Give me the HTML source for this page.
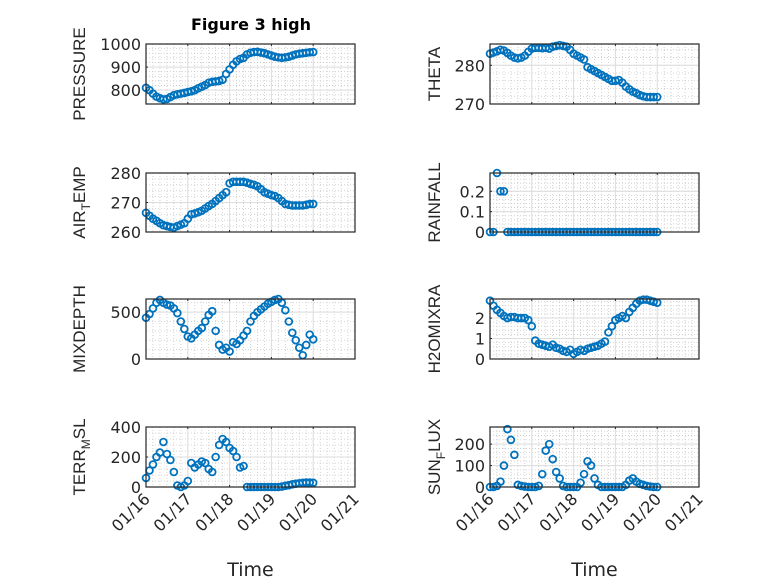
<!DOCTYPE html>
<html><head><meta charset="utf-8"><style>
html,body{margin:0;padding:0;background:#fff;}
svg{display:block;font-family:"DejaVu Sans","Liberation Sans",sans-serif;}
</style></head><body>
<svg id="fig" width="778" height="583" viewBox="0 0 778 583" xmlns="http://www.w3.org/2000/svg">
<rect width="778" height="583" fill="#fff"/>
<text x="251" y="30" text-anchor="middle" font-size="16" font-weight="bold" fill="#000">Figure 3 high</text>
</svg>
<script>
const xTickLabels = ["01/16","01/17","01/18","01/19","01/20","01/21"];
const pressure = [810,800,785,772,765,760,762,770,778,782,785,788,792,795,800,808,815,822,832,836,838,840,845,870,890,910,925,935,940,955,962,965,966,963,960,955,950,945,942,940,942,945,950,955,958,960,962,964,965];
const theta = [283,283.3,283.6,284,283.8,283.2,282.5,282,281.8,282,282.5,283.5,284.3,284.5,284.5,284.4,284.5,284.3,284.8,285,285.2,285,284.8,284,283,282.5,282,281.5,279.5,279,278.5,278,277.5,277,276.5,276,276,276.2,275.5,274.5,273.8,273.2,272.8,272.3,272,271.8,271.8,271.8,271.8];
const airTemp = [266.5,265.5,264.5,263.8,263,262.3,262,261.7,261.5,262,262.5,263,264.5,266,266.3,266.7,267.2,268,268.8,269.5,270.5,271.5,272.5,273.5,276.5,277,277,277,277,276.7,276.3,276,275.5,274.5,273.5,273,272.5,272.2,271.5,270.5,269.5,269.2,269,269,269,269,269.2,269.5,269.5];
const rainfall = [0,0,0.29,0.2,0.2,0,0,0,0,0,0,0,0,0,0,0,0,0,0,0,0,0,0,0,0,0,0,0,0,0,0,0,0,0,0,0,0,0,0,0,0,0,0,0,0,0,0,0,0];
const mixDepth = [440,480,540,600,630,600,580,570,540,490,400,320,240,220,260,300,330,400,470,510,300,150,100,120,80,180,160,200,250,300,400,460,500,530,560,590,610,630,640,600,520,400,280,200,120,40,150,260,210];
const h2oMixRa = [2.85,2.6,2.4,2.25,2.1,2.0,2.05,2.05,2.0,2.0,2.0,1.9,1.6,0.9,0.75,0.7,0.65,0.6,0.7,0.55,0.5,0.4,0.35,0.45,0.25,0.35,0.45,0.4,0.5,0.55,0.6,0.65,0.75,0.85,1.3,1.6,1.9,2.0,2.1,2.0,2.3,2.5,2.7,2.85,2.9,2.9,2.85,2.8,2.75];
const terrMsl = [60,110,150,200,230,300,220,180,100,10,0,10,40,160,130,150,170,160,120,100,200,280,320,300,260,240,200,130,140,0,0,0,0,0,0,0,0,0,0,3,8,12,18,22,25,28,30,30,28];
const sunFlux = [0,0,5,25,100,270,220,150,10,5,2,0,0,0,5,60,170,200,130,70,40,5,0,0,0,0,20,60,120,100,40,10,0,0,0,0,0,0,0,10,30,40,25,15,10,5,2,0,0];

const NS="http://www.w3.org/2000/svg";
const svg=document.getElementById('fig');
function mk(tag,attrs,parent){const e=document.createElementNS(NS,tag);for(const k in attrs)e.setAttribute(k,attrs[k]);(parent||svg).appendChild(e);return e;}

const panels=[
 {name:"pressure",data:pressure,x0:146,x1:355,y0:44,y1:104,ymin:740,ymax:1000,ticks:[800,900,1000],label:["PRESSURE"],bottom:false},
 {name:"theta",data:theta,x0:490,x1:699,y0:44,y1:104,ymin:270,ymax:285.5,ticks:[270,280],label:["THETA"],bottom:false},
 {name:"air-temp",data:airTemp,x0:146,x1:355,y0:173,y1:232,ymin:260,ymax:280,ticks:[260,270,280],label:["AIR","T","EMP"],bottom:false},
 {name:"rainfall",data:rainfall,x0:490,x1:699,y0:173,y1:232,ymin:0,ymax:0.29,ticks:[0,0.1,0.2],label:["RAINFALL"],bottom:false},
 {name:"mixdepth",data:mixDepth,x0:146,x1:355,y0:299,y1:359,ymin:0,ymax:640,ticks:[0,500],label:["MIXDEPTH"],bottom:false},
 {name:"h2omixra",data:h2oMixRa,x0:490,x1:699,y0:299,y1:359,ymin:0,ymax:2.93,ticks:[0,1,2],label:["H2OMIXRA"],bottom:false},
 {name:"terr-msl",data:terrMsl,x0:146,x1:355,y0:427,y1:487,ymin:0,ymax:400,ticks:[0,200,400],label:["TERR","M","SL"],bottom:true},
 {name:"sun-flux",data:sunFlux,x0:490,x1:699,y0:427,y1:487,ymin:0,ymax:280,ticks:[0,100,200],label:["SUN","F","LUX"],bottom:true}
];

panels.forEach(p=>{
  const g=mk('g',{});
  
  
  const xs=d=>p.x0+(p.x1-p.x0)*d/5;
  const ys=v=>p.y1-(p.y1-p.y0)*(v-p.ymin)/(p.ymax-p.ymin);
  for(let d=0;d<5;d++){for(let k=1;k<6;k++){const x=xs(d+k/6);
    const l=mk('line',{x1:x,x2:x,y1:p.y0,y2:p.y1,stroke:'#c8c8c8','stroke-width':0.8,'stroke-dasharray':'1 2'},g);
    }}
  const step=p.ticks[1]-p.ticks[0];
  for(let v=p.ticks[0]-step;v<=p.ymax;v+=step/5){ if(v<p.ymin||v>p.ymax)continue;
    const y=ys(v);const l=mk('line',{x1:p.x0,x2:p.x1,y1:y,y2:y,stroke:'#c8c8c8','stroke-width':0.8,'stroke-dasharray':'1 2'},g);
    }
  for(let d=1;d<5;d++){const x=xs(d);const l=mk('line',{x1:x,x2:x,y1:p.y0,y2:p.y1,stroke:'#dcdcdc','stroke-width':1},g);
    }
  p.ticks.forEach(v=>{const y=ys(v);const l=mk('line',{x1:p.x0,x2:p.x1,y1:y,y2:y,stroke:'#dcdcdc','stroke-width':1},g);
    
    const t=mk('text',{x:p.x0-5,y:y+6,'text-anchor':'end','font-size':16,fill:'#262626'},g);
    t.textContent=String(v);
    
    mk('line',{x1:p.x0,x2:p.x0+2,y1:y,y2:y,stroke:'#262626'},g);
  });
  xTickLabels.forEach((lab,i)=>{const x=xs(i);
    mk('line',{x1:x,x2:x,y1:p.y1,y2:p.y1-2,stroke:'#262626'},g);
    mk('line',{x1:x,x2:x,y1:p.y0,y2:p.y0+2,stroke:'#262626'},g);
    if(p.bottom){const t=mk('text',{x:x+5,y:p.y1+13,'text-anchor':'end','font-size':16,fill:'#262626',transform:`rotate(-45 ${x+5} ${p.y1+13})`},g);
      t.textContent=lab;}
  });
  p.data.forEach((v,i)=>{const c=mk('circle',{cx:xs(i/12),cy:ys(v),r:3.4,fill:'none',stroke:'#0072BD','stroke-width':1.8},g);
    });
  const b=mk('rect',{x:p.x0,y:p.y0,width:p.x1-p.x0,height:p.y1-p.y0,fill:'none',stroke:'#262626','stroke-width':1.2},g);
  
  const lxx=p.x0>400?440:85;
  const cy=(p.y0+p.y1)/2;
  const yl=mk('text',{x:lxx,y:cy,'text-anchor':'middle','font-size':17,fill:'#262626','font-family':'Liberation Sans, sans-serif',transform:`rotate(-90 ${lxx} ${cy})`},g);
  
  if(p.label.length===1){yl.textContent=p.label[0];}
  else{const a=mk('tspan',{},yl);a.textContent=p.label[0];
    const s=mk('tspan',{dy:5,'font-size':12},yl);s.textContent=p.label[1];
    const r=mk('tspan',{dy:-5},yl);r.textContent=p.label[2];}
  if(p.bottom){const t=mk('text',{x:(p.x0+p.x1)/2,y:576,'text-anchor':'middle','font-size':19,fill:'#262626'},g);
    t.textContent='Time';}
});
</script>
</body></html>
